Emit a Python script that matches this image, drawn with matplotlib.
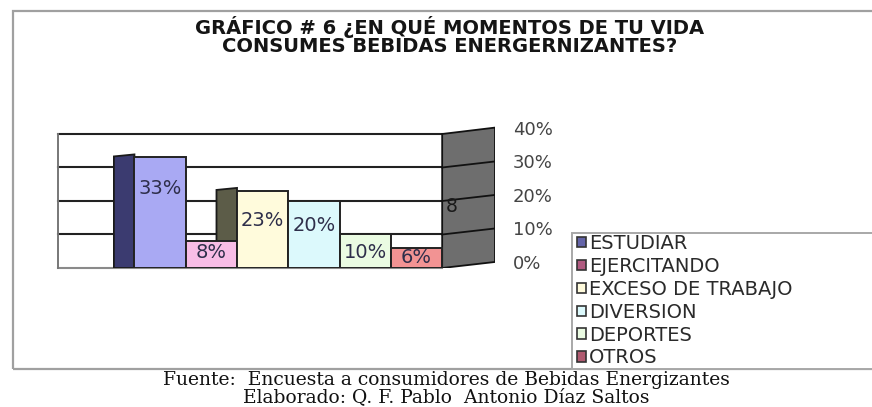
import numpy as np
import matplotlib.pyplot as plt
from matplotlib.patches import Polygon, Rectangle
from matplotlib.transforms import ScaledTranslation

categories = ['ESTUDIAR', 'EJERCITANDO', 'EXCESO DE TRABAJO', 'DIVERSION', 'DEPORTES', 'OTROS']
values = [33, 8, 23, 20, 10, 6]
value_labels = ['33%', '8%', '23%', '20%', '10%', '6%']
ticks = [0, 10, 20, 30, 40]
tick_labels = ['0%', '10%', '20%', '30%', '40%']

face_colors = ['#a9a9f3', '#f8bde6', '#fffbdc', '#dcf9fc', '#eafbe2', '#f29393']
side_colors = ['#3b3b70', None, '#5c5c48', None, None, None]
marker_colors = ['#6464a8', '#b05a80', '#fffbdc', '#dcf9fc', '#eafbe2', '#b05a70']
label_frac = [0.72, 0.56, 0.61, 0.63, 0.45, 0.5]   # where the % text sits inside each bar

W, H = 872, 407
def fx(px):
    return px / W
def fy(py):
    return 1 - py / H

fig = plt.figure(figsize=(W / 100, H / 100), dpi=100)

# outer chart frame
fig.patches.append(Rectangle((fx(13), fy(369)), fx(900) - fx(13), fy(11) - fy(369),
                             transform=fig.transFigure, fill=False, edgecolor='#a0a0a0', lw=1.6))

ax = fig.add_axes([fx(58), fy(268), fx(495) - fx(58), fy(125.6) - fy(268)])
x0, xw = -1.99, 5.5
ax.set_xlim(x0, 6.53)
ax.set_ylim(0, 42.5)
for s in ax.spines.values():
    s.set_visible(False)
ax.set_xticks([])
ax.yaxis.tick_right()
ax.set_yticks(ticks, tick_labels)
ax.tick_params(axis='y', length=0, pad=13, labelsize=13, labelcolor='#444444')
for lab in ax.get_yticklabels():
    lab.set_transform(lab.get_transform() + ScaledTranslation(0, 6 / 100, fig.dpi_scale_trans))

# back wall grid
for t in ticks:
    ax.plot([x0, xw], [t, t], color='#8a8a8a' if t == 0 else '#222222', lw=1.5, clip_on=False, zorder=1)
ax.plot([x0, x0], [0, 40], color='#777777', lw=1.4, clip_on=False, zorder=1)

# grey side wall on the right
ax.add_patch(Polygon([(xw, 0), (xw, 40), (6.53, 41.9), (6.53, 1.8)], closed=True,
                     facecolor='#6e6e6e', edgecolor='#111111', lw=1.3, zorder=1))
for t in ticks[1:-1]:
    ax.plot([xw, 6.53], [t, t + 1.8], color='#111111', lw=1.3, zorder=1)
ax.text(5.69, 18.5, '8', ha='center', va='center', fontsize=13.5, color='#1a1a1a', zorder=5)

x = np.arange(len(values))
for i, (v, sc) in enumerate(zip(values, side_colors)):
    if sc is None:
        continue
    ax.add_patch(Polygon([(i - 0.9, 0), (i - 0.9, v + 0.3), (i - 0.5, v + 0.9), (i - 0.5, 0)],
                         closed=True, facecolor=sc, edgecolor='#1a1a1a', lw=1.3, zorder=2))
ax.bar(x, values, width=1, color=face_colors, edgecolor='#222222', linewidth=1.4, zorder=3)

for i, (v, lab) in enumerate(zip(values, value_labels)):
    ax.text(i, v * label_frac[i], lab, ha='center', va='center', fontsize=14,
            color='#2e2e4a', zorder=5)

# legend box
fig.patches.append(Rectangle((fx(572), fy(369)), fx(900) - fx(572), fy(233) - fy(369),
                             transform=fig.transFigure, facecolor='white', edgecolor='#a8a8a8', lw=1.4))
handles = [Rectangle((0, 0), 1, 1, facecolor=fc, edgecolor='#333333', lw=1.2) for fc in marker_colors]
fig.legend(handles, categories, loc='upper left', bbox_to_anchor=(fx(577), fy(234)),
           frameon=False, fontsize=14, handlelength=0.45, handleheight=0.45,
           handletextpad=0.15, labelspacing=0.2, borderpad=0, borderaxespad=0,
           labelcolor='#2a2a2a')

fig.text(fx(450), fy(36), 'GRÁFICO # 6 ¿EN QUÉ MOMENTOS DE TU VIDA\nCONSUMES BEBIDAS ENERGERNIZANTES?',
         ha='center', va='center', fontsize=14, fontweight='bold', color='#151515', linespacing=1.0)

fig.text(fx(446), fy(380), 'Fuente:  Encuesta a consumidores de Bebidas Energizantes',
         ha='center', va='center', fontsize=13.5, family='DejaVu Serif', color='#111111')
fig.text(fx(446), fy(397), 'Elaborado: Q. F. Pablo  Antonio Díaz Saltos',
         ha='center', va='center', fontsize=13.5, family='DejaVu Serif', color='#111111')

fig.savefig('out.png', dpi=100, facecolor='white')
